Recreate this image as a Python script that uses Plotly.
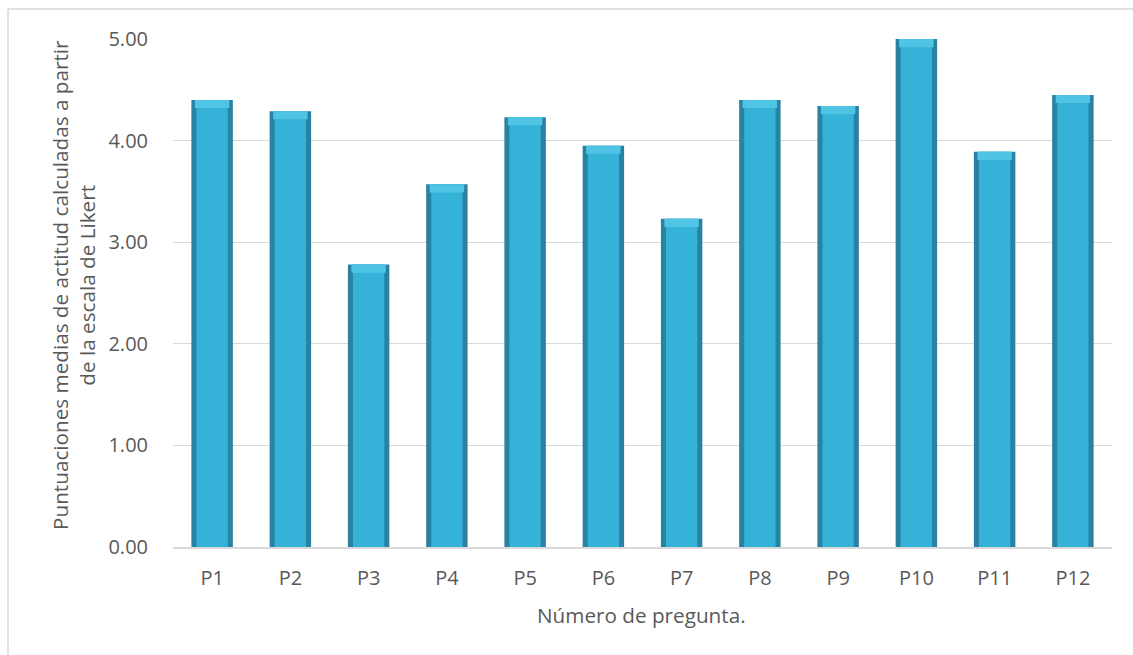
import plotly.graph_objects as go

categories = ["P1", "P2", "P3", "P4", "P5", "P6", "P7", "P8", "P9", "P10", "P11", "P12"]
values = [4.40, 4.29, 2.78, 3.57, 4.23, 3.95, 3.23, 4.40, 4.34, 5.00, 3.89, 4.45]
y_ticks = [0, 1, 2, 3, 4, 5]
y_tick_labels = ["0.00", "1.00", "2.00", "3.00", "4.00", "5.00"]

y_title = "Puntuaciones medias de actitud calculadas a partir<br>de la escala de Likert"
x_title = "Número de pregunta."

FONT = "Open Sans"
TXT = "#595959"
FS = 20
FS_T = 20.7

cap_h = 0.08
cap_base = [v - cap_h for v in values]
cap_len = [cap_h for _ in values]

fig = go.Figure()
# outer (darker edge) bar
fig.add_trace(go.Bar(
    x=categories, y=values, width=0.53,
    marker=dict(color="#2a82a3", line=dict(width=0)),
    hoverinfo="skip", showlegend=False,
))
# inner body
fig.add_trace(go.Bar(
    x=categories, y=values, width=0.40,
    marker=dict(color="#35b2d7", line=dict(width=0)),
    showlegend=False,
))
# light top cap
fig.add_trace(go.Bar(
    x=categories, y=cap_len, base=cap_base, width=0.44,
    marker=dict(color="#4fc4e5", line=dict(width=0)),
    hoverinfo="skip", showlegend=False,
))

fig.update_layout(
    width=1133, height=655,
    margin=dict(l=173, r=21, t=39, b=108),
    paper_bgcolor="white", plot_bgcolor="white",
    barmode="overlay",
    font=dict(family=FONT, size=FS, color=TXT),
    xaxis=dict(
        showgrid=False, showline=True, linecolor="#d9d9d9", linewidth=1.5,
        ticks="outside", ticklen=12, tickcolor="rgba(0,0,0,0)",
        tickfont=dict(family=FONT, size=FS, color=TXT),
    ),
    yaxis=dict(
        range=[0, 5], tickvals=y_ticks, ticktext=y_tick_labels,
        showgrid=True, gridcolor="#d9d9d9", gridwidth=1,
        zeroline=False, showline=False,
        ticks="outside", ticklen=20, tickcolor="rgba(0,0,0,0)",
        tickfont=dict(family=FONT, size=FS, color=TXT),
    ),
    annotations=[
        dict(text=y_title, xref="paper", yref="paper",
             x=(73 - 173) / 939, y=(547 - 285) / 508,
             xanchor="center", yanchor="middle", textangle=-90,
             showarrow=False, font=dict(family=FONT, size=FS_T, color=TXT)),
        dict(text=x_title, xref="paper", yref="paper",
             x=(641 - 173) / 939, y=(547 - 615) / 508,
             xanchor="center", yanchor="middle",
             showarrow=False, font=dict(family=FONT, size=FS_T, color=TXT)),
    ],
    shapes=[
        dict(type="line", xref="paper", yref="paper",
             x0=(8 - 173) / 939, x1=(8 - 173) / 939,
             y0=(547 - 9) / 508, y1=(547 - 700) / 508,
             line=dict(color="#d9d9d9", width=1.5)),
        dict(type="line", xref="paper", yref="paper",
             x0=(8 - 173) / 939, x1=(1140 - 173) / 939,
             y0=(547 - 9) / 508, y1=(547 - 9) / 508,
             line=dict(color="#d9d9d9", width=1.5)),
    ],
)

fig.write_html("out.html")
